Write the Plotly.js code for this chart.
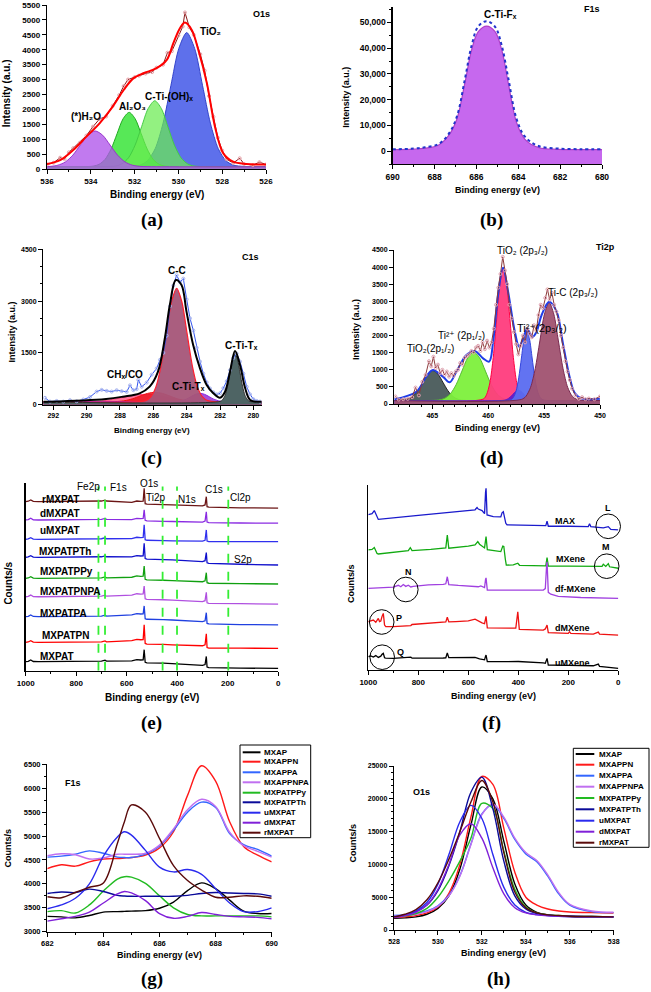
<!DOCTYPE html>
<html><head><meta charset="utf-8">
<script src="https://cdn.plot.ly/plotly-3.0.1.min.js"></script>
<style>html,body{margin:0;padding:0;background:#fff;}#chart{width:651px;height:992px;}</style>
</head><body><div id="chart"></div>
<script>
// ---------- (a) O1s ----------
const aEnvX = [536, 535.4, 534.8, 534.2, 533.6, 533.0, 532.5, 532.06, 531.6, 531.0, 530.53, 530.23, 529.93, 529.7, 529.39, 529.09, 528.7, 528.33, 527.95, 527.5, 526.9, 526];
const aEnvY = [168, 300, 640, 1085, 1530, 2090, 2650, 3040, 3210, 3380, 3660, 4220, 4720, 4910, 4660, 3990, 2880, 1420, 525, 245, 168, 150];
const aRawX = [536, 535.7, 535.4, 535.2, 535.0, 534.8, 534.5, 534.2, 533.9, 533.6, 533.3, 533.0, 532.7, 532.5, 532.3, 532.0, 531.8, 531.5, 531.2, 531.0, 530.7, 530.5, 530.3, 530.0, 529.8, 529.7, 529.5, 529.3, 529.0, 528.8, 528.6, 528.4, 528.2, 528.0, 527.8, 527.5, 527.2, 527.0, 526.6, 526.3, 526];
const aRawY = [150, 210, 380, 330, 560, 700, 880, 1120, 1420, 1680, 1760, 2120, 2480, 2780, 3000, 3080, 3130, 3200, 3250, 3400, 3500, 3900, 3950, 4480, 4780, 5250, 4750, 4500, 3850, 3300, 2450, 1750, 1050, 620, 330, 200, 360, 170, 130, 230, 150];
const aH2OX = [536, 535.84, 535.5, 535.16, 534.82, 534.48, 534.14, 533.8, 533.46, 533.12, 532.78, 532.44, 532.1, 531.76, 531, 526];
const aH2OY = [80, 88, 128, 237, 465, 803, 1133, 1275, 1133, 803, 465, 237, 128, 88, 76, 75];
const aAlX = [536, 535, 533.9, 533.625, 533.35, 533.075, 532.8, 532.525, 532.25, 531.975, 531.7, 531.425, 531.15, 530.875, 530.6, 529.5, 526];
const aAlY = [75, 77, 95, 155, 321, 668, 1183, 1685, 1900, 1685, 1183, 668, 321, 155, 95, 77, 75];
const aCTiX = [536, 534, 532.88, 532.58, 532.28, 531.98, 531.68, 531.38, 531.08, 530.78, 530.48, 530.18, 529.88, 529.58, 529.28, 528.2, 526];
const aCTiY = [75, 77, 99, 172, 374, 795, 1420, 2029, 2290, 2029, 1420, 795, 374, 172, 99, 77, 75];
const aTiO2X = [536, 533, 531.78, 531.42, 531.06, 530.7, 530.34, 529.98, 529.62, 529.26, 528.9, 528.54, 528.18, 527.82, 527.46, 526.5, 526];
const aTiO2Y = [75, 77, 125, 273, 683, 1538, 2807, 4044, 4575, 4044, 2807, 1538, 683, 273, 125, 77, 75];

// ---------- (b) F1s ----------
const bX = [690, 689, 688.46, 687.82, 687.34, 686.94, 686.55, 686.23, 685.91, 685.51, 685.11, 684.79, 684.48, 684.08, 683.68, 683.04, 682.09, 681, 680];
const bFit = [600, 800, 1150, 2300, 5900, 12300, 26500, 39300, 46400, 48600, 46400, 39300, 26500, 11000, 4600, 1400, 700, 620, 600];
const bData = [700, 1000, 1500, 2700, 6500, 13300, 28000, 41000, 48500, 50500, 48300, 41000, 28500, 12500, 5600, 2000, 1000, 750, 700];

// ---------- (c) C1s ----------
const cEnvX = [292.6, 292.24, 288.83, 287.83, 286.82, 286.22, 285.72, 285.31, 285.01, 284.65, 284.31, 284.01, 283.61, 283.2, 282.8, 282.4, 282.0, 281.7, 281.4, 281.1, 280.8, 280.49, 280.19, 279.5];
const cEnvY = [85, 87, 165, 232, 330, 522, 956, 1923, 2887, 3611, 3466, 2694, 1729, 1054, 571, 330, 203, 377, 956, 1555, 1150, 475, 136, 87];
const cCCX = [292.6, 286.46, 286.15, 285.84, 285.53, 285.22, 284.91, 284.6, 284.29, 283.98, 283.67, 283.36, 283.05, 282.74, 279.5];
const cCCY = [80, 116, 225, 524, 1149, 2077, 2982, 3370, 2982, 2077, 1149, 524, 225, 116, 80];
const cCTX = [292.6, 282.0, 281.85, 281.7, 281.55, 281.4, 281.25, 281.1, 280.95, 280.8, 280.65, 280.5, 280.35, 280.2, 279.5];
const cCTY = [80, 95, 142, 269, 535, 930, 1315, 1480, 1315, 930, 535, 269, 142, 95, 80];
const cPinkX = [292.6, 290.4, 289.75, 289.1, 288.45, 287.8, 287.15, 286.5, 285.85, 285.2, 284.55, 283.9, 283.25, 282.6, 279.5];
const cPinkY = [80, 82, 90, 110, 152, 214, 274, 300, 274, 214, 152, 110, 90, 82, 80];
const cRedX = [292.6, 288.6, 288.15, 287.7, 287.25, 286.8, 286.35, 285.9, 285.45, 285.0, 284.55, 284.1, 283.65, 283.2, 279.5];
const cRedY = [80, 83, 92, 118, 171, 250, 327, 360, 327, 250, 171, 118, 92, 83, 80];
const cPurX = [292.6, 284.85, 284.575, 284.3, 284.025, 283.75, 283.475, 283.2, 282.925, 282.65, 282.375, 282.1, 281.825, 281.55, 279.5];
const cPurY = [80, 83, 91, 114, 161, 232, 300, 330, 300, 232, 161, 114, 91, 83, 80];
const cBaseX = [292.6, 279.5];
const cBaseY = [80, 80];
const cRawX = [292.5, 292.2, 291.8, 291.4, 291.0, 290.6, 290.2, 289.8, 289.4, 289.1, 288.8, 288.5, 288.2, 287.9, 287.6, 287.4, 287.2, 287.0, 286.9, 286.7, 286.4, 286.1, 285.8, 285.6, 285.4, 285.2, 285.0, 284.8, 284.6, 284.4, 284.2, 284.0, 283.8, 283.6, 283.4, 283.2, 283.0, 282.8, 282.6, 282.4, 282.2, 282.0, 281.8, 281.6, 281.4, 281.2, 281.0, 280.8, 280.6, 280.4, 280.2, 280.0, 279.8, 279.6];
const cRawY = [200, 90, 110, 90, 130, 100, 150, 220, 380, 430, 400, 380, 420, 390, 370, 560, 420, 450, 720, 520, 640, 870, 1050, 1300, 1500, 2000, 2850, 3450, 3750, 3550, 3650, 3050, 2500, 2150, 1650, 1250, 900, 650, 470, 360, 300, 330, 480, 680, 1000, 1350, 1480, 1250, 900, 520, 300, 160, 110, 90];

// ---------- (d) Ti2p ----------
const dEnvX = [468.4, 466.43, 465.54, 464.95, 464.05, 463.45, 462.85, 461.95, 461.21, 460.46, 459.92, 459.56, 459.12, 458.67, 458.22, 457.62, 457.23, 456.87, 456.52, 456.03, 455.67, 455.22, 454.54, 453.88, 453.29, 452.69, 452.24, 451.64, 450];
const dEnvY = [140, 360, 799, 994, 799, 633, 945, 1432, 1549, 1334, 1237, 1821, 3185, 3984, 3283, 2114, 1675, 1919, 2192, 1967, 2114, 2601, 2990, 2698, 1724, 750, 312, 166, 150];
const dGrayX = [468.4, 467.65, 467.2, 466.75, 466.3, 465.85, 465.4, 464.95, 464.5, 464.05, 463.6, 463.15, 462.7, 462.25, 450];
const dGrayY = [100, 110, 139, 219, 386, 634, 876, 980, 876, 634, 386, 219, 139, 110, 100];
const dGreenX = [468.4, 464.45, 463.925, 463.4, 462.875, 462.35, 461.825, 461.3, 460.775, 460.25, 459.725, 459.2, 458.675, 458.15, 450];
const dGreenY = [100, 116, 162, 292, 562, 962, 1352, 1520, 1352, 962, 562, 292, 162, 116, 100];
const dPinkX = [468.4, 460.45, 460.15, 459.85, 459.55, 459.25, 458.95, 458.65, 458.35, 458.05, 457.75, 457.45, 457.15, 456.85, 450];
const dPinkY = [100, 143, 271, 624, 1361, 2455, 3522, 3980, 3522, 2455, 1361, 624, 271, 143, 100];
const dPurX = [468.4, 458.8, 458.55, 458.3, 458.05, 457.8, 457.55, 457.3, 457.05, 456.8, 456.55, 456.3, 456.05, 455.8, 450];
const dPurY = [100, 103, 113, 141, 198, 282, 365, 400, 365, 282, 198, 141, 113, 103, 100];
const dBlueX = [468.4, 457.99, 457.75, 457.51, 457.27, 457.03, 456.79, 456.55, 456.31, 456.07, 455.83, 455.59, 455.35, 455.11, 450];
const dBlueY = [100, 123, 190, 377, 766, 1344, 1908, 2150, 1908, 1344, 766, 377, 190, 123, 100];
const dTiCX = [468.4, 457.04, 456.625, 456.21, 455.795, 455.38, 454.965, 454.55, 454.135, 453.72, 453.305, 452.89, 452.475, 452.06, 450];
const dTiCY = [100, 132, 226, 487, 1033, 1842, 2631, 2970, 2631, 1842, 1033, 487, 226, 132, 100];
const dBaseX = [468.4, 450];
const dBaseY = [100, 100];
const dRawX = [468.3, 468.0, 467.6, 467.2, 466.8, 466.5, 466.2, 465.9, 465.6, 465.3, 465.1, 464.9, 464.7, 464.5, 464.3, 464.1, 463.9, 463.7, 463.5, 463.3, 463.1, 462.9, 462.7, 462.5, 462.3, 462.1, 461.9, 461.7, 461.5, 461.3, 461.1, 460.9, 460.7, 460.5, 460.3, 460.1, 459.9, 459.7, 459.5, 459.3, 459.1, 458.9, 458.7, 458.5, 458.3, 458.1, 457.9, 457.7, 457.5, 457.3, 457.1, 456.9, 456.7, 456.5, 456.3, 456.1, 455.9, 455.7, 455.5, 455.3, 455.1, 454.9, 454.7, 454.5, 454.3, 454.1, 453.9, 453.7, 453.5, 453.3, 453.1, 452.9, 452.7, 452.5, 452.2, 451.9, 451.6, 451.3, 451.0, 450.5, 450.0];
const dRawY = [220, 130, 140, 150, 200, 480, 250, 650, 850, 1250, 1100, 1380, 1050, 1150, 900, 1000, 850, 950, 800, 900, 820, 950, 1000, 1200, 1150, 1350, 1400, 1450, 1550, 1500, 1650, 1700, 1550, 1800, 1600, 1850, 1650, 1800, 2200, 2900, 3400, 3800, 4300, 3900, 3500, 2900, 2500, 2100, 1750, 1450, 1700, 2000, 1800, 2200, 2050, 1950, 2300, 2150, 2600, 2900, 2800, 3100, 3350, 3050, 3250, 2900, 2700, 2450, 2000, 1650, 1250, 950, 700, 450, 250, 150, 200, 140, 160, 140, 220];

// ---------- (e) survey spectra ----------
const eNames = ['MXPAT', 'MXPATPN', 'MXPATPA', 'MXPATPNPA', 'MXPATPPy', 'MXPATPTh', 'uMXPAT', 'dMXPAT', 'rMXPAT'];
const eColors = ['#000000', '#ff0000', '#2040e0', '#b050e0', '#10a010', '#1010cc', '#3030ee', '#8a2be2', '#6b1515'];
const eX = [1000, 990, 980, 970, 950, 800, 700, 686, 680, 580, 560, 545, 535, 531, 527, 520, 460, 455, 420, 300, 290, 285, 282, 275, 150, 0];
const eMXPAT = [48, 50, 57, 49, 48, 50, 51, 56, 51, 52, 59, 57, 58, 112, 45, 42, 43, 40, 38, 28, 33, 76, 19, 16, 14, 12];
const eMXPATPN = [151, 153, 160, 152, 151, 153, 154, 159, 154, 160, 167, 165, 166, 245, 145, 142, 143, 140, 138, 133, 138, 196, 123, 120, 120, 119];
const eMXPATPA = [288, 290, 297, 289, 288, 290, 291, 296, 291, 297, 304, 302, 303, 345, 277, 274, 275, 272, 270, 261, 266, 309, 252, 249, 246, 244];
const eMXPATPNPA = [394, 396, 403, 395, 394, 396, 397, 402, 397, 403, 410, 408, 409, 451, 383, 380, 381, 378, 376, 368, 373, 418, 362, 359, 357, 355];
const eMXPATPPy = [492, 494, 501, 493, 492, 494, 495, 500, 495, 498, 505, 503, 504, 558, 487, 484, 485, 482, 480, 474, 479, 522, 469, 466, 464, 462];
const eMXPATPTh = [604, 606, 613, 605, 604, 606, 607, 612, 607, 606, 613, 611, 612, 679, 597, 594, 595, 592, 590, 581, 586, 629, 575, 572, 567, 563];
const euMXPAT = [700, 702, 709, 701, 700, 702, 703, 708, 703, 704, 711, 709, 710, 777, 698, 695, 696, 693, 692, 690, 695, 750, 691, 688, 688, 688];
const edMXPAT = [803, 805, 812, 804, 803, 805, 806, 811, 806, 805, 812, 810, 811, 857, 801, 798, 799, 796, 795, 792, 797, 847, 792, 789, 787, 786];
const erMXPAT = [901, 903, 910, 902, 901, 903, 904, 909, 904, 897, 904, 902, 903, 972, 890, 887, 888, 885, 883, 878, 883, 927, 874, 871, 868, 866];
const eSeries = [eMXPAT, eMXPATPN, eMXPATPA, eMXPATPNPA, eMXPATPPy, eMXPATPTh, euMXPAT, edMXPAT, erMXPAT];
const eElemNames = ['Fe2p', 'F1s', 'Ti2p', 'N1s', 'Cl2p'];
const eElemPos = [712, 686, 458, 401, 198];

// ---------- (f) survey spectra ----------
const fNames = ['MAX', 'MXene', 'df-MXene', 'dMXene', 'uMXene'];
const fColors = ['#1a1acc', '#11aa11', '#a040e0', '#ee1111', '#000000'];
const fMAXX = [1000, 985, 976, 965, 960, 800, 700, 600, 573, 565, 560, 545, 535, 531, 529, 525, 500, 470, 465, 460, 455, 450, 445, 300, 290, 285, 280, 200, 120, 115, 110, 60, 40, 30, 0];
const fMAXY = [840, 845, 862, 825, 814, 836, 849, 862, 866, 878, 870, 862, 845, 960, 982, 838, 829, 828, 850, 856, 830, 793, 785, 777, 780, 805, 777, 777, 775, 790, 775, 768, 775, 760, 757];
const fMXeneX = [1000, 985, 976, 965, 960, 900, 840, 832, 825, 750, 700, 690, 684, 678, 600, 573, 562, 555, 535, 531, 529, 524, 500, 470, 462, 458, 452, 448, 420, 402, 395, 300, 290, 285, 280, 200, 100, 65, 60, 50, 40, 35, 0];
const fMXeneY = [649, 652, 662, 630, 627, 635, 645, 661, 645, 652, 658, 660, 730, 658, 670, 676, 694, 680, 660, 700, 721, 650, 645, 640, 670, 668, 600, 567, 568, 577, 566, 562, 563, 607, 562, 562, 560, 560, 572, 560, 575, 558, 550];
const fDfX = [1000, 960, 900, 880, 870, 860, 850, 840, 830, 820, 760, 700, 690, 684, 678, 640, 600, 560, 550, 535, 531, 529, 524, 450, 400, 300, 292, 287, 285, 280, 270, 240, 150, 0];
const fDfY = [441, 443, 448, 458, 450, 462, 452, 458, 449, 452, 460, 463, 466, 504, 462, 457, 452, 450, 455, 446, 490, 498, 432, 430, 432, 432, 440, 560, 585, 420, 410, 398, 392, 387];
const fDX = [1000, 980, 970, 960, 955, 950, 945, 940, 935, 930, 900, 830, 825, 780, 720, 700, 690, 684, 678, 650, 600, 573, 565, 545, 535, 531, 529, 524, 450, 410, 402, 396, 300, 292, 285, 280, 200, 195, 190, 100, 80, 75, 0];
const fDY = [261, 270, 258, 279, 262, 265, 290, 306, 243, 234, 234, 240, 246, 250, 255, 258, 260, 285, 260, 262, 266, 275, 268, 255, 250, 275, 290, 228, 225, 226, 315, 220, 216, 222, 243, 202, 198, 207, 198, 194, 205, 194, 189];
const fUX = [1000, 990, 980, 970, 960, 950, 945, 940, 935, 930, 900, 830, 825, 780, 700, 690, 684, 678, 600, 573, 555, 535, 531, 529, 524, 450, 400, 300, 292, 285, 280, 200, 100, 80, 75, 0];
const fUY = [72, 76, 70, 78, 68, 75, 85, 90, 66, 64, 63, 70, 64, 63, 65, 66, 92, 67, 65, 68, 60, 55, 75, 81, 45, 45, 46, 38, 36, 63, 27, 25, 23, 32, 20, 9];
const fXs = [fMAXX, fMXeneX, fDfX, fDX, fUX];
const fYs = [fMAXY, fMXeneY, fDfY, fDY, fUY];

// ---------- (g) F1s & (h) O1s ----------
const ghNames = ['MXAP', 'MXAPPN', 'MXAPPA', 'MXAPPNPA', 'MXPATPPy', 'MXPATPTh', 'uMXPAT', 'dMXPAT', 'rMXPAT'];
const ghColors = ['#000000', '#ff1a1a', '#3366ff', '#c070f0', '#22bb22', '#0a0a99', '#2a2aee', '#8020d8', '#5a0a0a'];
const gX = [682, 682.5, 683, 683.5, 684, 684.5, 684.75, 685, 685.5, 686, 686.5, 687, 687.5, 688, 688.5, 689, 689.5, 690];
const gMXAP = [3320, 3310, 3290, 3340, 3410, 3420, 3425, 3430, 3440, 3490, 3620, 3860, 4020, 3900, 3660, 3430, 3380, 3380];
const gMXAPPN = [4320, 4400, 4370, 4460, 4520, 4530, 4540, 4550, 4600, 4750, 5090, 5850, 6470, 6150, 5300, 4780, 4600, 4460];
const gMXAPPA = [4560, 4580, 4620, 4690, 4640, 4560, 4550, 4550, 4620, 4790, 5120, 5500, 5710, 5600, 5050, 4820, 4720, 4580];
const gMXAPPNPA = [4590, 4630, 4610, 4520, 4540, 4620, 4620, 4620, 4640, 4810, 5150, 5550, 5770, 5620, 5080, 4800, 4680, 4560];
const gMXPATPPy = [3420, 3440, 3390, 3560, 3850, 4100, 4150, 4140, 4010, 3750, 3500, 3360, 3330, 3330, 3330, 3330, 3330, 3310];
const gMXPATPTh = [3800, 3830, 3820, 3890, 3840, 3760, 3745, 3740, 3740, 3740, 3740, 3760, 3800, 3820, 3810, 3800, 3790, 3740];
const guMXPAT = [3480, 3560, 3700, 4000, 4580, 4980, 5090, 5020, 4700, 4350, 4250, 4300, 4200, 3900, 3600, 3420, 3420, 3500];
const gdMXPAT = [3220, 3270, 3320, 3410, 3600, 3790, 3840, 3810, 3650, 3380, 3280, 3320, 3400, 3360, 3320, 3310, 3300, 3270];
const grMXPAT = [3730, 3710, 3820, 3930, 4020, 4850, 5300, 5650, 5500, 4950, 4380, 4070, 3870, 3720, 3720, 3750, 3740, 3700];
const gSeries = [gMXAP, gMXAPPN, gMXAPPA, gMXAPPNPA, gMXPATPPy, gMXPATPTh, guMXPAT, gdMXPAT, grMXPAT];

const hX = [528, 528.5, 529, 529.5, 530, 530.5, 531, 531.5, 532, 532.5, 533, 533.5, 534, 534.5, 535, 535.5, 536, 537, 538];
const hMXAP = [1800, 1850, 2000, 2400, 3300, 5200, 9300, 16000, 21800, 20000, 13500, 7000, 3800, 2700, 2300, 2150, 2050, 2000, 2000];
const hMXAPPN = [1900, 2000, 2200, 2600, 3500, 5600, 10000, 17200, 23400, 22200, 15500, 8800, 5000, 3800, 3200, 2900, 2750, 2650, 2600];
const hMXAPPA = [2200, 2300, 2500, 2900, 3700, 5300, 8300, 13100, 17700, 19100, 17000, 13800, 11600, 10400, 8200, 5500, 3800, 2800, 2650];
const hMXAPPNPA = [2100, 2200, 2400, 2800, 3600, 5200, 8200, 13000, 17600, 19200, 17200, 14000, 11800, 10600, 8400, 5700, 3900, 2900, 2700];
const hMXPATPPy = [2000, 2150, 2500, 3300, 5000, 7500, 10500, 14000, 19300, 18500, 12000, 6200, 3500, 2600, 2300, 2200, 2100, 2050, 2000];
const hMXPATPTh = [2000, 2300, 2800, 3800, 6000, 9800, 15000, 21000, 23300, 18500, 10500, 5200, 3200, 2500, 2250, 2150, 2100, 2050, 2000];
const huMXPAT = [2000, 2300, 2900, 4200, 7000, 11500, 16500, 19000, 17000, 11500, 6500, 3800, 2700, 2350, 2200, 2100, 2050, 2000, 2000];
const hdMXPAT = [1900, 2200, 2700, 3800, 6200, 10000, 14500, 16200, 14000, 9500, 5500, 3400, 2600, 2300, 2150, 2100, 2050, 2000, 2000];
const hrMXPAT = [2000, 2400, 3100, 4600, 7200, 10800, 15000, 19500, 22800, 19500, 11800, 5800, 3400, 2600, 2300, 2200, 2100, 2050, 2000];
const hSeries = [hMXAP, hMXAPPN, hMXAPPA, hMXAPPNPA, hMXPATPPy, hMXPATPTh, huMXPAT, hdMXPAT, hrMXPAT];

// axis ranges
const aXR = [536, 526], aYR = [0, 5500];
const bXR = [690, 680], bYR = [-5000, 56000];
const cXR = [292.6, 279.5], cYR = [0, 4500];
const dXR = [468.4, 450], dYR = [0, 4500];
const eXR = [1000, 0], eYR = [0, 1000];
const fXR = [1000, 0], fYR = [0, 1000];
const gXR = [682, 690], gYR = [3000, 6500];
const hXR = [528, 538], hYR = [0, 25000];

// ---------- helpers ----------
const W = 651, H = 992;
const F = 'Liberation Sans, Arial, DejaVu Sans, sans-serif';
const FSER = 'Liberation Serif, Times New Roman, serif';
const PX = v => v / W, PY = v => 1 - v / H;

function xAx(l, r, anchor, range, dtick, mdtick, fs) {
  const o = {domain: [PX(l), PX(r)], anchor, range, autorange: false, showline: true, linecolor: '#000', linewidth: 1.3,
    ticks: 'outside', ticklen: 4, tickwidth: 1, tickcolor: '#000', tickmode: 'linear', tick0: 0, dtick,
    showgrid: false, zeroline: false, fixedrange: true, tickformat: 'd',
    tickfont: {family: F, size: fs, color: '#000', weight: 'bold'}};
  if (mdtick) o.minor = {ticks: 'outside', ticklen: 2, tickwidth: 1, tickcolor: '#000', dtick: mdtick, tick0: 0, showgrid: false};
  return o;
}
function yAx(t, b, anchor, range, dtick, mdtick, fs, extra) {
  const o = {domain: [PY(b), PY(t)], anchor, range, autorange: false, showline: true, linecolor: '#000', linewidth: 1.3,
    ticks: 'outside', ticklen: 4, tickwidth: 1, tickcolor: '#000', tickmode: 'linear', tick0: 0, dtick,
    showgrid: false, zeroline: false, fixedrange: true, tickformat: 'd',
    tickfont: {family: F, size: fs, color: '#000', weight: 'bold'}};
  if (mdtick) o.minor = {ticks: 'outside', ticklen: 2, tickwidth: 1, tickcolor: '#000', dtick: mdtick, tick0: 0, showgrid: false};
  return Object.assign(o, extra || {});
}
function fillTr(x, y, xa, ya, fillcolor, lc, lw) {
  return {x, y, xaxis: xa, yaxis: ya, type: 'scatter', mode: 'lines', fill: 'tozeroy', fillcolor,
    line: {color: lc, width: lw, shape: 'spline', smoothing: 0.8}, showlegend: false, hoverinfo: 'skip'};
}
function lineTr(x, y, xa, ya, color, width, shape, extra) {
  return Object.assign({x, y, xaxis: xa, yaxis: ya, type: 'scatter', mode: 'lines',
    line: {color, width, shape: shape || 'linear'}, showlegend: false, hoverinfo: 'skip'}, extra || {});
}
function T(text, x, y, xref, yref, size, o) {
  return Object.assign({text, x, y, xref, yref, showarrow: false, xanchor: 'center', yanchor: 'middle',
    font: {family: F, size, color: '#000'}}, o || {});
}
function TP(text, px, py, size, o) { return T(text, PX(px), PY(py), 'paper', 'paper', size, o); }

const traces = [];
// (a)
traces.push(fillTr(aTiO2X, aTiO2Y, 'x', 'y', 'rgba(72,92,232,0.88)', '#3344cc', 1));
traces.push(fillTr(aAlX, aAlY, 'x', 'y', 'rgba(40,225,40,0.78)', '#22aa22', 1));
traces.push(fillTr(aCTiX, aCTiY, 'x', 'y', 'rgba(105,236,80,0.72)', '#44cc44', 1));
traces.push(fillTr(aH2OX, aH2OY, 'x', 'y', 'rgba(175,85,235,0.78)', '#9933cc', 1));
traces.push(lineTr(aRawX, aRawY, 'x', 'y', '#8b1a1a', 1, 'linear', {mode: 'lines+markers', marker: {symbol: 'circle-open', size: 3, color: '#e8a0a8'}}));
traces.push(lineTr(aEnvX, aEnvY, 'x', 'y', '#ff0000', 2, 'spline'));
// (b)
traces.push(lineTr([bXR[0], bXR[1]], [bYR[0], bYR[0]], 'x2', 'y2', 'rgba(0,0,0,0)', 0));
traces.push(Object.assign(lineTr(bX, bFit, 'x2', 'y2', '#b040c8', 1.2, 'spline'), {fill: 'tonexty', fillcolor: 'rgb(198,104,238)'}));
traces.push(lineTr(bX, bData, 'x2', 'y2', '#2233cc', 2, 'spline', {line: {color: '#2233cc', width: 2, shape: 'spline', dash: 'dot'}}));
// (c)
traces.push(fillTr(cBaseX, cBaseY, 'x3', 'y3', 'rgb(200,20,200)', '#c010c0', 1));
traces.push(fillTr(cPinkX, cPinkY, 'x3', 'y3', 'rgba(255,90,140,0.85)', '#ff4080', 1));
traces.push(fillTr(cRedX, cRedY, 'x3', 'y3', 'rgba(235,20,30,0.85)', '#ee1010', 1));
traces.push(fillTr(cPurX, cPurY, 'x3', 'y3', 'rgba(150,50,210,0.85)', '#8a2be2', 1));
traces.push(fillTr(cCCX, cCCY, 'x3', 'y3', 'rgba(165,85,120,0.95)', '#ff2030', 1.2));
traces.push(fillTr(cCTX, cCTY, 'x3', 'y3', 'rgb(78,100,100)', '#333', 1));
traces.push(lineTr(cRawX, cRawY, 'x3', 'y3', '#3355ee', 1, 'linear', {mode: 'lines+markers', marker: {symbol: 'circle-open', size: 3, color: '#a8b4ee'}}));
traces.push(lineTr(cEnvX, cEnvY, 'x3', 'y3', '#000000', 2, 'spline'));
// (d)
traces.push(fillTr(dBaseX, dBaseY, 'x4', 'y4', 'rgb(20,55,225)', '#1437e1', 1));
traces.push(fillTr(dGrayX, dGrayY, 'x4', 'y4', 'rgb(82,98,98)', '#222', 1));
traces.push(fillTr(dGreenX, dGreenY, 'x4', 'y4', 'rgba(125,240,60,0.95)', '#55bb33', 1));
traces.push(fillTr(dPinkX, dPinkY, 'x4', 'y4', 'rgba(255,60,125,0.95)', '#ff0040', 1));
traces.push(fillTr(dPurX, dPurY, 'x4', 'y4', 'rgba(105,25,195,0.95)', '#6a1fc0', 1));
traces.push(fillTr(dBlueX, dBlueY, 'x4', 'y4', 'rgba(90,108,240,0.95)', '#3344dd', 1));
traces.push(fillTr(dTiCX, dTiCY, 'x4', 'y4', 'rgba(160,82,112,0.95)', '#7a2a50', 1));
traces.push(lineTr(dEnvX, dEnvY, 'x4', 'y4', '#1f3de8', 2, 'spline'));
traces.push(lineTr(dRawX, dRawY, 'x4', 'y4', '#8b3a3a', 1, 'linear', {mode: 'lines+markers', marker: {symbol: 'circle-open', size: 3, color: '#e0a0b0'}}));
// (e)
eSeries.forEach((s, i) => traces.push(lineTr(eX, s, 'x5', 'y5', eColors[i], 1.3)));
// (f)
fYs.forEach((s, i) => traces.push(lineTr(fXs[i], s, 'x6', 'y6', fColors[i], 1.3)));
// (g), (h)
gSeries.forEach((s, i) => traces.push(lineTr(gX, s, 'x7', 'y7', ghColors[i], 1.4, 'spline')));
hSeries.forEach((s, i) => traces.push(lineTr(hX, s, 'x8', 'y8', ghColors[i], 1.4, 'spline')));

const ann = [];
const shapes = [];
const B = t => '<b>' + t + '</b>';
// (a)
ann.push(T(B('(*)H₂O'), 534.2, 1760, 'x', 'y', 10));
ann.push(T(B('Al₂O₃'), 532.1, 2110, 'x', 'y', 10));
ann.push(T(B('C-Ti-(OH)ₓ'), 530.45, 2430, 'x', 'y', 10));
ann.push(T(B('TiO₂'), 528.55, 4600, 'x', 'y', 10));
ann.push(TP(B('O1s'), 261, 14, 9));
// (b)
ann.push(T(B('C-Ti-Fₓ'), 684.85, 53000, 'x2', 'y2', 10));
ann.push(TP(B('F1s'), 591.7, 9.5, 9));
// (c)
ann.push(T(B('C-C'), 284.6, 3900, 'x3', 'y3', 10));
ann.push(T(B('CHₓ/CO'), 287.7, 880, 'x3', 'y3', 10));
ann.push(T(B('C-Ti-Tₓ'), 283.9, 540, 'x3', 'y3', 10));
ann.push(T(B('C-Ti-Tₓ'), 280.7, 1700, 'x3', 'y3', 10));
ann.push(TP(B('C1s'), 250.7, 257.3, 9));
// (d)
ann.push(T('TiO₂(2p₁/₂)', 465.15, 1620, 'x4', 'y4', 10));
ann.push(T('Ti²⁺ (2p₁/₂)', 462.4, 1990, 'x4', 'y4', 10));
ann.push(T('TiO₂ (2p₃/₂)', 456.96, 4480, 'x4', 'y4', 10));
ann.push(T('Ti²⁺(2p₃/₂)', 455.2, 2230, 'x4', 'y4', 11));
ann.push(T('Ti-C (2p₃/₂)', 452.4, 3270, 'x4', 'y4', 10));
ann.push(TP(B('Ti2p'), 605, 247, 9));
// (e) labels
const eLab = [[56.7, 656.7], [65, 635.7], [63.3, 613.3], [70, 591.7], [66.7, 571.7], [65, 551.7], [60, 530.7], [60, 513.3], [60, 499]];
eNames.forEach((n, i) => ann.push(TP(B(n), eLab[i][0], eLab[i][1], 10)));
const eElemLab = [[88.3, 486], [118.3, 487.3], [155.7, 497.3], [186.7, 499], [240.7, 497.3]];
eElemNames.forEach((n, i) => ann.push(TP(n, eElemLab[i][0], eElemLab[i][1], 10)));
ann.push(TP('O1s', 149, 483.5, 10));
ann.push(TP('C1s', 214.3, 490, 10));
ann.push(TP('S2p', 243.3, 559, 10));
eElemPos.forEach(v => shapes.push({type: 'line', xref: 'x5', yref: 'y5', x0: v, x1: v, y0: 0, y1: 981, line: {color: '#33ee33', width: 1.8, dash: 'dash'}}));
// (f) labels
const fLab = [[565, 520.7], [570, 559], [575, 589.3], [572.7, 627.7], [572.7, 662.7]];
fNames.forEach((n, i) => ann.push(TP(B(n), fLab[i][0], fLab[i][1], 9)));
const fCirc = [['L', 607.7, 508.3, 608.2, 526.3], ['M', 606, 546.7, 606.7, 566.2], ['N', 408.3, 572, 405.8, 589.5], ['P', 399, 618.3, 381.7, 622], ['Q', 400, 651.7, 382.2, 657.2]];
fCirc.forEach(c => {
  ann.push(TP(B(c[0]), c[1], c[2], 9));
  const r = 12.3;
  shapes.push({type: 'circle', xref: 'paper', yref: 'paper', x0: PX(c[3] - r), x1: PX(c[3] + r), y0: PY(c[4] + r), y1: PY(c[4] - r), line: {color: '#000', width: 1}});
});
// (g),(h) inner labels
ann.push(TP(B('F1s'), 72.7, 783.3, 9));
ann.push(TP(B('O1s'), 421.7, 791.7, 9));
// manual legends
function legend(box, rows, lx0, lx1, tx, fs) {
  shapes.push({type: 'rect', xref: 'paper', yref: 'paper', x0: PX(box[0]), x1: PX(box[1]), y0: PY(box[3]), y1: PY(box[2]), line: {color: '#000', width: 1}, fillcolor: 'rgba(255,255,255,1)', layer: 'above'});
  ghNames.forEach((n, i) => {
    shapes.push({type: 'line', xref: 'paper', yref: 'paper', x0: PX(lx0), x1: PX(lx1), y0: PY(rows[i]), y1: PY(rows[i]), line: {color: ghColors[i], width: 2}, layer: 'above'});
    ann.push(TP(B(n), tx, rows[i], fs, {xanchor: 'left'}));
  });
}
legend([240, 310.7, 745, 837.7], [752.3, 761.7, 772.3, 782.3, 792.7, 802.3, 812.7, 822.7, 832.7], 242.7, 260.5, 261.5, 8);
legend([573.3, 649, 748.3, 847.3], [754, 764.7, 775.7, 786.7, 798, 809.3, 820.7, 831.7, 842.7], 575.7, 594.3, 597, 8);

// axis titles
const xt = [[156.7, 194.3, 10], [497.3, 190, 9], [151.7, 430, 8], [497.3, 428.3, 9], [151.7, 697.3, 10], [493.3, 696, 9], [159.3, 955, 9], [503.3, 953.3, 9]];
xt.forEach(t => ann.push(TP(B('Binding energy (eV)'), t[0], t[1], t[2])));
const yt = [['Intensity (a.u.)', 6, 93.3, 10], ['Intensity (a.u.)', 346, 96.7, 9], ['Intensity (a.u.)', 11.7, 331.7, 9], ['Intensity (a.u.)', 356, 330, 9],
  ['Counts/s', 8.3, 583.3, 10], ['Counts/s', 351.7, 583.3, 9], ['Counts/s', 8.3, 848.3, 9], ['Counts/s', 353.3, 843.3, 9]];
yt.forEach(t => ann.push(TP(B(t[0]), t[1], t[2], t[3], {textangle: -90})));
// panel letters
const pl = [['(a)', 151.7, 220], ['(b)', 491.7, 220], ['(c)', 151.7, 458.3], ['(d)', 491.7, 458.3], ['(e)', 151.7, 723], ['(f)', 491.7, 723], ['(g)', 151.7, 979], ['(h)', 498.3, 979]];
pl.forEach(p => ann.push(TP('<b>' + p[0] + '</b>', p[1], p[2], 19, {font: {family: FSER, size: 19, color: '#000'}})));

const layout = {
  width: W, height: H, margin: {l: 0, r: 0, t: 0, b: 0}, paper_bgcolor: '#fff', plot_bgcolor: 'rgba(0,0,0,0)', showlegend: false,
  font: {family: F, color: '#000'},
  xaxis: xAx(47, 266, 'y', aXR, 2, 1, 8),
  yaxis: yAx(5, 169, 'x', aYR, 500, 0, 8),
  xaxis2: xAx(392.7, 602, 'y2', bXR, 2, 1, 8.5),
  yaxis2: yAx(7, 164, 'x2', bYR, 10000, 5000, 8.5, {tickformat: ',d', tickmode: 'array', tickvals: [0, 10000, 20000, 30000, 40000, 50000]}),
  xaxis3: xAx(43.3, 261.7, 'y3', cXR, 2, 1, 7),
  yaxis3: yAx(249.3, 404.7, 'x3', cYR, 1500, 500, 7),
  xaxis4: xAx(394.3, 600, 'y4', dXR, 5, 1, 7),
  yaxis4: yAx(250, 404, 'x4', dYR, 500, 0, 7),
  xaxis5: xAx(25.7, 278.3, 'y5', eXR, 200, 100, 8),
  yaxis5: yAx(483, 670.7, 'x5', eYR, 200, 0, 8, {showticklabels: false, ticks: ''}),
  xaxis6: xAx(368.3, 618.3, 'y6', fXR, 200, 100, 8),
  yaxis6: yAx(485, 670, 'x6', fYR, 200, 0, 8, {showticklabels: false, ticks: ''}),
  xaxis7: xAx(47.3, 271.7, 'y7', gXR, 2, 1, 7.5),
  yaxis7: yAx(764.3, 931.7, 'x7', gYR, 500, 250, 7.5),
  xaxis8: xAx(394, 613.7, 'y8', hXR, 2, 1, 7),
  yaxis8: yAx(766, 930, 'x8', hYR, 5000, 1000, 7),
  annotations: ann,
  shapes: shapes
};
Plotly.newPlot('chart', traces, layout, {displayModeBar: false, staticPlot: true});
</script></body></html>
